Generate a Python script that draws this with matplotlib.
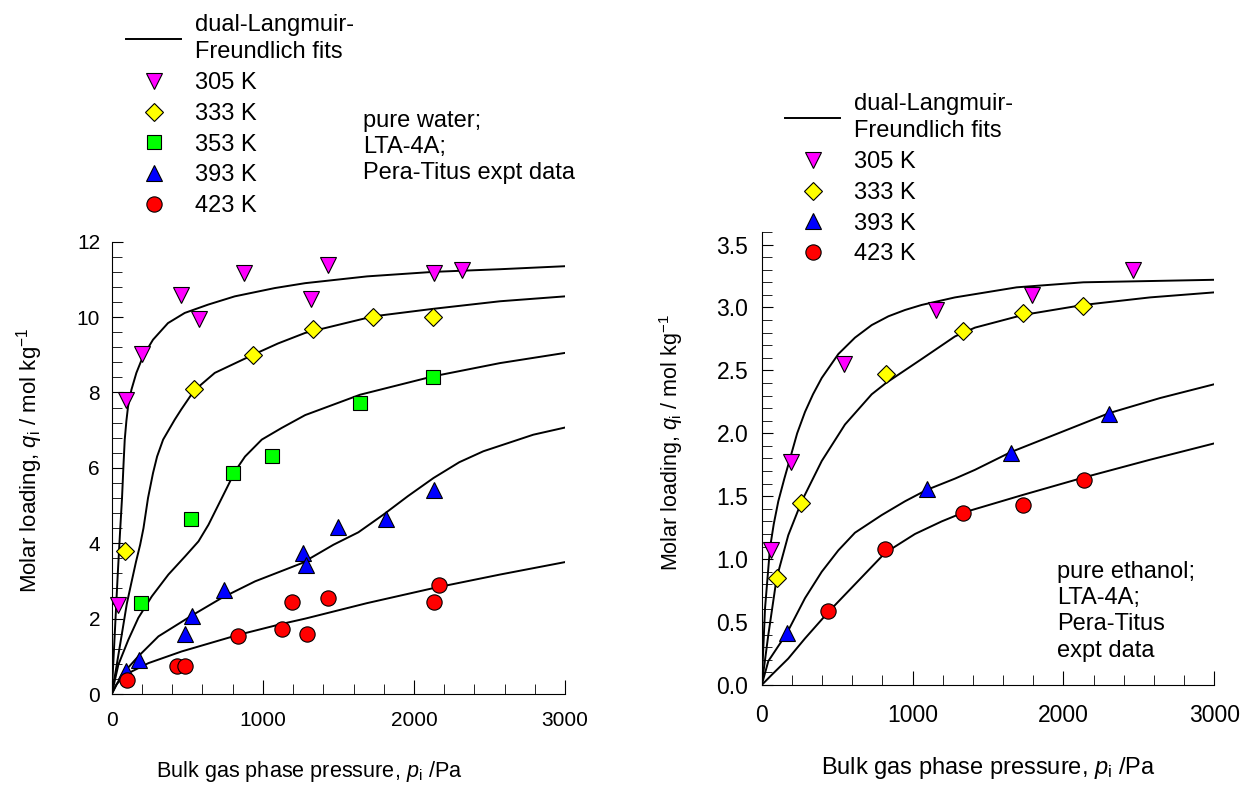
import numpy as np
import matplotlib
matplotlib.use('Agg')
import matplotlib.pyplot as plt
from matplotlib.ticker import MultipleLocator, FormatStrFormatter
from matplotlib.lines import Line2D

plt.rcParams['font.family'] = 'Liberation Sans'
plt.rcParams['mathtext.fontset'] = 'custom'
plt.rcParams['mathtext.rm'] = 'Liberation Sans'
plt.rcParams['mathtext.it'] = 'Liberation Sans:italic'
plt.rcParams['font.size'] = 15

# ---------------- pure water (left) : expt data ----------------
w305_p = [44, 95, 198, 459, 580, 878, 1319, 1434, 2133, 2316]
w305_q = [2.35, 7.79, 9.03, 10.58, 9.94, 11.18, 10.47, 11.38, 11.18, 11.26]
w333_p = [88, 545, 935, 1335, 1727, 2129]
w333_q = [3.79, 8.10, 8.99, 9.68, 10.01, 10.01]
w353_p = [192, 523, 805, 1063, 1643, 2124]
w353_q = [2.42, 4.63, 5.86, 6.32, 7.73, 8.40]
w393_p = [95, 183, 485, 529, 746, 1268, 1286, 1500, 1813, 2133]
w393_q = [0.62, 0.89, 1.58, 2.08, 2.76, 3.74, 3.41, 4.43, 4.65, 5.42]
w423_p = [99, 430, 485, 838, 1125, 1196, 1290, 1429, 2135, 2168]
w423_q = [0.37, 0.75, 0.75, 1.53, 1.73, 2.44, 1.58, 2.55, 2.44, 2.90]

# pure water : dual-Langmuir-Freundlich fit curves
fw305_p = [0, 20, 40, 55, 68, 78, 86, 97, 108, 130, 163, 207, 273, 372, 483, 637, 814, 1079, 1280, 1690, 2130, 2570, 3000]
fw305_q = [0, 1.6, 3.2, 4.3, 5.2, 6.1, 6.75, 7.25, 7.63, 8.07, 8.52, 8.96, 9.40, 9.84, 10.11, 10.33, 10.55, 10.77, 10.90, 11.08, 11.20, 11.27, 11.35]
fw333_p = [0, 30, 66, 100, 132, 160, 188, 210, 225, 240, 273, 300, 340, 417, 460, 545, 682, 935, 1100, 1280, 1731, 2129, 2570, 3000]
fw333_q = [0, 0.7, 1.57, 2.4, 2.99, 3.5, 3.96, 4.4, 4.8, 5.2, 5.86, 6.3, 6.75, 7.28, 7.55, 8.05, 8.52, 9.00, 9.30, 9.58, 10.02, 10.22, 10.42, 10.55]
fw353_p = [0, 44, 110, 176, 265, 375, 485, 574, 640, 706, 772, 816, 882, 993, 1125, 1280, 1643, 2129, 2570, 3000]
fw353_q = [0, 0.78, 1.44, 2.02, 2.59, 3.17, 3.65, 4.05, 4.49, 5.02, 5.55, 5.91, 6.30, 6.75, 7.06, 7.40, 7.94, 8.43, 8.78, 9.05]
fw393_p = [0, 66, 176, 309, 529, 728, 949, 1257, 1467, 1632, 1798, 1960, 2129, 2300, 2459, 2790, 3000]
fw393_q = [0, 0.51, 1.0, 1.53, 2.08, 2.55, 2.99, 3.47, 3.96, 4.29, 4.76, 5.25, 5.73, 6.15, 6.44, 6.88, 7.07]
fw423_p = [0, 30, 88, 243, 463, 838, 1125, 1280, 1688, 2129, 2570, 3000]
fw423_q = [0, 0.25, 0.51, 0.82, 1.13, 1.57, 1.86, 2.0, 2.41, 2.81, 3.17, 3.50]

# ---------------- pure ethanol (right) : expt data ----------------
e305_p = [60, 192, 548, 1153, 1789, 2459]
e305_q = [1.07, 1.77, 2.55, 2.98, 3.10, 3.30]
e333_p = [99, 261, 824, 1332, 1730, 2132]
e333_q = [0.85, 1.45, 2.47, 2.81, 2.96, 3.01]
e393_p = [170, 1098, 1650, 2302]
e393_q = [0.41, 1.56, 1.84, 2.15]
e423_p = [442, 817, 1336, 1730, 2138]
e423_q = [0.59, 1.08, 1.37, 1.43, 1.63]

fe305_p = [0, 22, 55, 80, 110, 150, 188, 235, 287, 340, 398, 508, 618, 729, 840, 950, 1060, 1281, 1690, 2132, 2570, 3000]
fe305_q = [0, 0.61, 1.09, 1.28, 1.46, 1.64, 1.80, 2.0, 2.17, 2.31, 2.44, 2.63, 2.76, 2.86, 2.93, 2.98, 3.02, 3.08, 3.16, 3.20, 3.21, 3.22]
fe333_p = [0, 44, 99, 176, 265, 398, 552, 729, 824, 1060, 1281, 1414, 1730, 2132, 2574, 3000]
fe333_q = [0, 0.40, 0.85, 1.19, 1.46, 1.78, 2.07, 2.31, 2.40, 2.59, 2.77, 2.84, 2.94, 3.02, 3.08, 3.12]
fe393_p = [0, 44, 166, 287, 398, 508, 618, 795, 950, 1093, 1281, 1414, 1650, 2302, 2640, 3000]
fe393_q = [0, 0.19, 0.41, 0.69, 0.90, 1.07, 1.21, 1.35, 1.46, 1.55, 1.64, 1.71, 1.85, 2.16, 2.28, 2.39]
fe423_p = [0, 66, 176, 287, 442, 618, 818, 1016, 1193, 1336, 1730, 2138, 2574, 3000]
fe423_q = [0, 0.08, 0.21, 0.37, 0.58, 0.80, 1.05, 1.20, 1.30, 1.37, 1.51, 1.65, 1.79, 1.92]

style = {
    '305 K': dict(marker='v', mfc='#ff00ff', ms=11.5),
    '333 K': dict(marker='D', mfc='#ffff00', ms=9),
    '353 K': dict(marker='s', mfc='#00ff00', ms=10),
    '393 K': dict(marker='^', mfc='#0000ff', ms=11.5),
    '423 K': dict(marker='o', mfc='#ff0000', ms=11),
}

fig = plt.figure(figsize=(12.43, 7.85), dpi=100)
ax1 = fig.add_axes([0.0899, 0.1159, 0.3647, 0.5762])
ax2 = fig.add_axes([0.6128, 0.1274, 0.3641, 0.5771])

water = [('305 K', w305_p, w305_q, fw305_p, fw305_q),
         ('333 K', w333_p, w333_q, fw333_p, fw333_q),
         ('353 K', w353_p, w353_q, fw353_p, fw353_q),
         ('393 K', w393_p, w393_q, fw393_p, fw393_q),
         ('423 K', w423_p, w423_q, fw423_p, fw423_q)]
ethanol = [('305 K', e305_p, e305_q, fe305_p, fe305_q),
           ('333 K', e333_p, e333_q, fe333_p, fe333_q),
           ('393 K', e393_p, e393_q, fe393_p, fe393_q),
           ('423 K', e423_p, e423_q, fe423_p, fe423_q)]


def draw(ax, sets, ymax, ymajor, yminor, yfmt, tsize, xpad, ypad, xls, yls):
    for name, p, q, fp, fq in sets:
        ax.plot(fp, fq, color='k', lw=1.4, zorder=2)
    for name, p, q, fp, fq in sets:
        ax.plot(p, q, ls='none', mec='k', mew=0.8, zorder=3, clip_on=False, **style[name])
    ax.set_xlim(0, 3000)
    ax.set_ylim(0, ymax)
    ax.xaxis.set_major_locator(MultipleLocator(1000))
    ax.xaxis.set_minor_locator(MultipleLocator(200))
    ax.yaxis.set_major_locator(MultipleLocator(ymajor))
    ax.yaxis.set_minor_locator(MultipleLocator(yminor))
    ax.yaxis.set_major_formatter(FormatStrFormatter(yfmt))
    ax.spines['top'].set_visible(False)
    ax.spines['right'].set_visible(False)
    ax.tick_params(which='both', direction='in', labelsize=tsize)
    ax.tick_params(axis='x', which='major', length=10, pad=xpad)
    ax.tick_params(axis='x', which='minor', length=7)
    ax.tick_params(axis='y', which='major', length=8, pad=ypad)
    ax.tick_params(axis='y', which='minor', length=7)
    ax.set_xlabel('Bulk gas phase pressure, $p_\\mathrm{i}$ /Pa', fontsize=xls)
    ax.set_ylabel('Molar loading, $q_\\mathrm{i}$ / mol kg$^{-1}$', fontsize=yls)

    handles = [Line2D([], [], color='k', lw=1.4)]
    labels = ['dual-Langmuir-\nFreundlich fits']
    for name, *_ in sets:
        handles.append(Line2D([], [], ls='none', mec='k', mew=0.8, **style[name]))
        labels.append(name)
    return handles, labels


h1, l1 = draw(ax1, water, 12, 2, 0.4, '%d', 15, 12, 8.4, 15.6, 16)
h2, l2 = draw(ax2, ethanol, 3.6, 0.5, 0.1, '%.1f', 16.5, 14, 9.6, 17, 15.5)
ax1.xaxis.set_label_coords(0.436, -0.143)
ax1.yaxis.set_label_coords(-0.147, 0.516)
ax2.xaxis.set_label_coords(0.5, -0.155)
ax2.yaxis.set_label_coords(-0.169, 0.534)

for ax, h, l, anchor in ((ax1, h1, l1, (126 / 1243, 1 - 14 / 785)),
                         (ax2, h2, l2, (785 / 1243, 1 - 93 / 785))):
    leg = ax.legend(h, l, loc='upper left', bbox_to_anchor=anchor,
                    bbox_transform=fig.transFigure, frameon=False, handlelength=2.33,
                    handletextpad=0.6, labelspacing=0.37, borderpad=0, borderaxespad=0,
                    fontsize=17)
    leg.get_texts()[0].set_linespacing(1.32)

fig.text(363 / 1243, 1 - 110 / 785, 'pure water;\nLTA-4A;\nPera-Titus expt data',
         ha='left', va='top', fontsize=17, linespacing=1.25)
fig.text(1057 / 1243, 1 - 561 / 785, 'pure ethanol;\nLTA-4A;\nPera-Titus\nexpt data',
         ha='left', va='top', fontsize=17, linespacing=1.25)

fig.savefig('out.png', dpi=100)
